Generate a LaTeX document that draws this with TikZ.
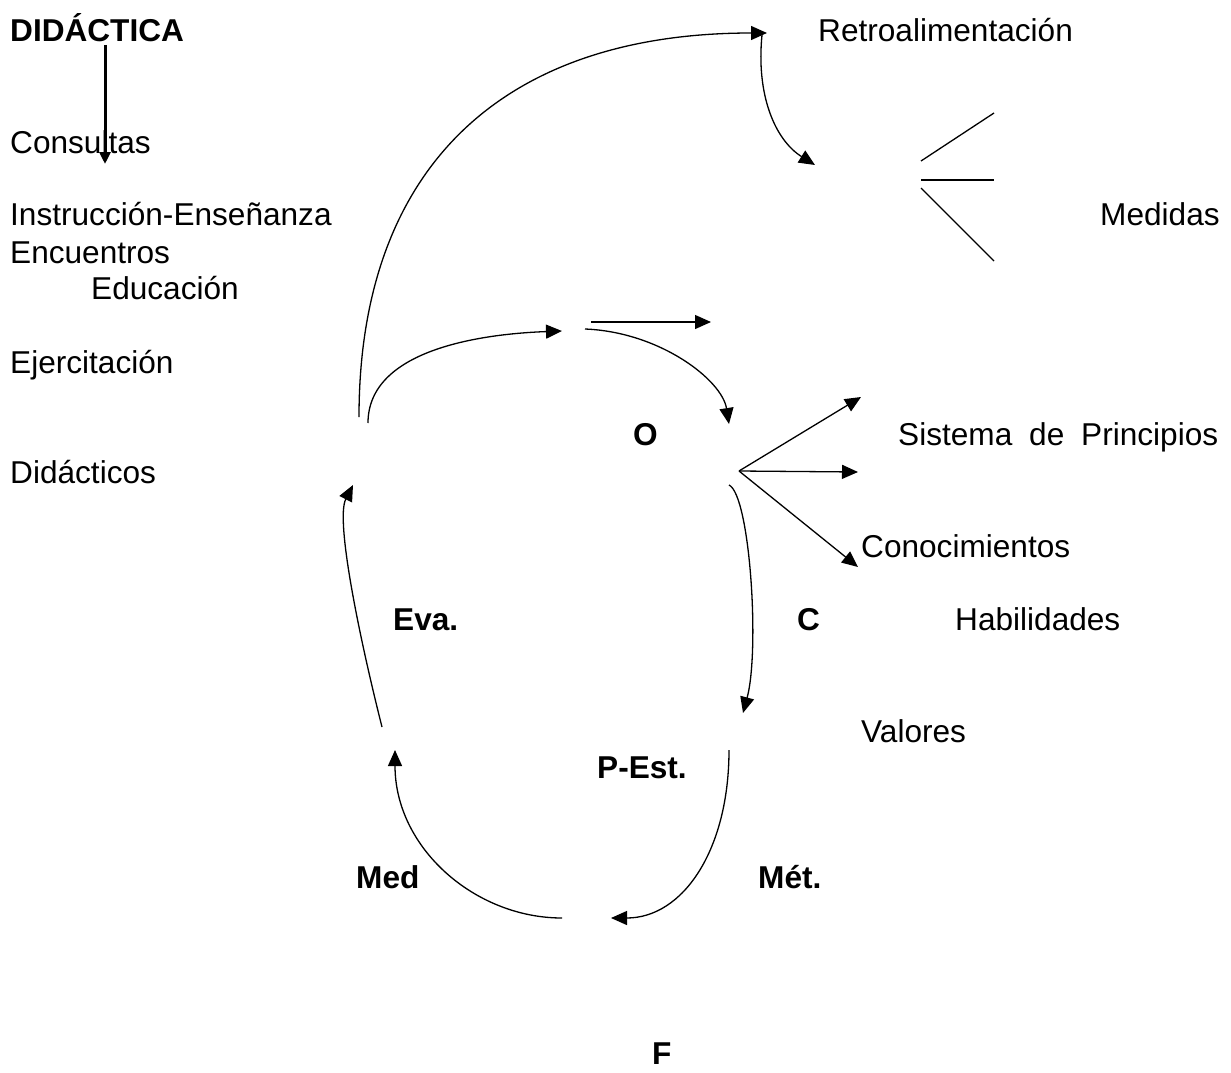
\documentclass[tikz,border=0pt]{standalone}
\usepackage{fontspec}
\setmainfont{Liberation Sans}
\usepackage{tikz}
\usetikzlibrary{arrows.meta}

\begin{document}
\begin{tikzpicture}[
    x=1pt, y=-1pt,
    lbl/.style={anchor=base west, inner sep=0pt, font=\fontsize{31.6}{38}\selectfont},
    lblb/.style={lbl, font=\fontsize{31.6}{38}\selectfont\bfseries},
    arr/.style={-{Triangle[length=16pt, width=14pt]}, line width=1.3pt},
    bigarr/.style={-{Triangle[length=12pt, width=11pt]}, line width=3pt},
    plain/.style={line width=1.3pt},
]
\useasboundingbox (0,0) rectangle (1231,1073);

% Left column
\node[lblb] (didactica) at (10, 42) {DIDÁCTICA};
\node[lbl] (consultas) at (10, 153) {Consultas};
\node[lbl] (instruccion) at (10, 225) {Instrucción-Enseñanza};
\node[lbl] (encuentros) at (10, 263) {Encuentros};
\node[lbl] (educacion) at (91, 299) {Educación};
\node[lbl] (ejercitacion) at (10, 373) {Ejercitación};
\node[lbl] (didacticos) at (10, 483) {Didácticos};

% Right side
\node[lbl] (retro) at (818, 42) {Retroalimentación};
\node[lbl] (medidas) at (1100, 225) {Medidas};
\node[lbl] (sistema) at (898, 445) {\makebox[320pt][s]{Sistema de Principios}};
\node[lbl] (conoc) at (861, 557) {Conocimientos};
\node[lbl] (habil) at (955, 630) {Habilidades};
\node[lbl] (valores) at (861, 742) {Valores};

% Cycle labels
\node[lblb] (o) at (633, 445) {O};
\node[lblb] (c) at (797, 630) {C};
\node[lblb] (eva) at (393, 630) {Eva.};
\node[lblb] (pest) at (597, 778) {P-Est.};
\node[lblb] (med) at (356, 888) {Med};
\node[lblb] (met) at (758, 888) {Mét.};
\node[lblb] (f) at (652, 1064) {F};

% Connector ends
\coordinate (d0) at (105, 45);
\coordinate (d1) at (105, 164);
\coordinate (a0) at (359, 417);
\coordinate (a1) at (767, 33);
\coordinate (r0) at (762, 35);
\coordinate (r1) at (815, 165);
\coordinate (s0) at (368, 423);
\coordinate (s1) at (562, 331);
\coordinate (h0) at (591, 322);
\coordinate (h1) at (711, 322);
\coordinate (k0) at (585, 329);
\coordinate (k1) at (729, 424);
\coordinate (fan) at (739, 471);
\coordinate (fan1) at (861, 397);
\coordinate (fan2) at (858, 472);
\coordinate (fan3) at (858, 567);
\coordinate (c0) at (729, 485);
\coordinate (c1) at (743, 713);
\coordinate (p0) at (729, 750);
\coordinate (p1) at (611, 918);
\coordinate (m0) at (562, 918);
\coordinate (m1) at (395, 750);
\coordinate (e0) at (382, 727);
\coordinate (e1) at (353, 485);
\coordinate (l1a) at (921, 161);
\coordinate (l1b) at (994, 113);
\coordinate (l2a) at (921, 180);
\coordinate (l2b) at (994, 180);
\coordinate (l3a) at (921, 188);
\coordinate (l3b) at (994, 261);

% Arrows
\draw[bigarr] (d0) -- (d1);
\draw[arr] (a0) .. controls (359, 170) and (500, 33) .. (a1);
\draw[arr] (r0) .. controls (756, 95) and (775, 140) .. (r1);
\draw[arr] (s0) .. controls (368, 350) and (480, 334) .. (s1);
\draw[arr] (h0) -- (h1);
\draw[arr] (k0) .. controls (660, 332) and (722, 380) .. (k1);
\draw[arr] (fan) -- (fan1);
\draw[arr] (fan) -- (fan2);
\draw[arr] (fan) -- (fan3);
\draw[arr] (c0) .. controls (750, 495) and (760, 650) .. (c1);
\draw[arr] (p0) .. controls (729, 850) and (683, 918) .. (p1);
\draw[arr] (m0) .. controls (475, 918) and (395, 848) .. (m1);
\draw[arr] (e0) .. controls (360, 640) and (335, 520) .. (e1);

% Lines near Medidas
\draw[plain] (l1a) -- (l1b);
\draw[plain] (l2a) -- (l2b);
\draw[plain] (l3a) -- (l3b);
\end{tikzpicture}
\end{document}
